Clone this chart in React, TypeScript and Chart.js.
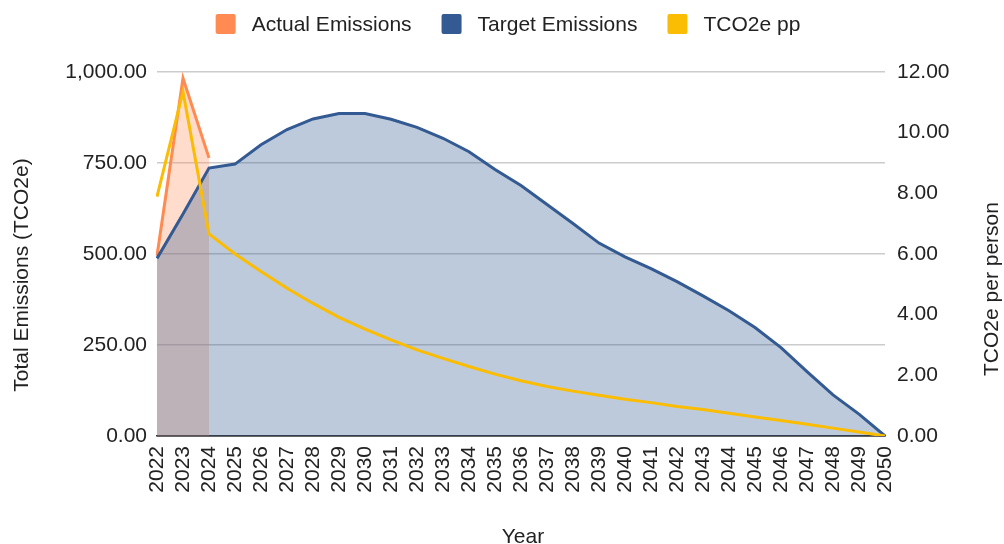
import React, { useEffect, useRef } from "react";
import { Chart, registerables } from "chart.js";

Chart.register(...registerables);

const years = ["2022","2023","2024","2025","2026","2027","2028","2029","2030","2031","2032","2033","2034","2035","2036","2037","2038","2039","2040","2041","2042","2043","2044","2045","2046","2047","2048","2049","2050"];
const actualEmissions: (number | null)[] = [495, 983, 764, null, null, null, null, null, null, null, null, null, null, null, null, null, null, null, null, null, null, null, null, null, null, null, null, null, null];
const targetEmissions = [488, 610, 736, 747, 800, 842, 871, 886, 886, 870, 848, 818, 781, 732, 688, 636, 584, 530, 492, 460, 424, 385, 344, 298, 243, 177, 113, 60, 0];
const tco2ePerPerson = [7.89, 11.35, 6.66, 6.0, 5.42, 4.87, 4.37, 3.91, 3.52, 3.17, 2.84, 2.56, 2.29, 2.04, 1.82, 1.63, 1.48, 1.34, 1.21, 1.10, 0.97, 0.87, 0.75, 0.63, 0.51, 0.39, 0.26, 0.13, 0];
const seriesNames = ["Actual Emissions", "Target Emissions", "TCO2e pp"];
const seriesColors = ["#FF8B52", "#335A92", "#FBBC04"];
const leftTitle = "Total Emissions (TCO2e)";
const rightTitle = "TCO2e per person";
const xTitle = "Year";

const FONT = "'Liberation Sans', Arial, sans-serif";
const FS = 21;

const overlayPlugin = {
  id: "overlay",
  afterDraw(chart: any) {
    const ctx = chart.ctx as CanvasRenderingContext2D;
    ctx.save();
    ctx.fillStyle = "#222";
    ctx.font = `${FS}px ${FONT}`;
    ctx.textBaseline = "middle";
    // legend
    const box = 20, gapText = 16, gapItem = 30;
    const widths = seriesNames.map((n) => ctx.measureText(n).width);
    const total = widths.reduce((a, b) => a + b, 0) + seriesNames.length * (box + gapText) + (seriesNames.length - 1) * gapItem;
    let x = 508 - total / 2;
    const cy = 24;
    seriesNames.forEach((n, i) => {
      ctx.fillStyle = seriesColors[i];
      ctx.beginPath();
      (ctx as any).roundRect(x, cy - box / 2, box, box, 2);
      ctx.fill();
      ctx.fillStyle = "#222";
      ctx.textAlign = "left";
      ctx.fillText(n, x + box + gapText, cy + 1);
      x += box + gapText + widths[i] + gapItem;
    });
    // axis titles
    ctx.textAlign = "center";
    ctx.save();
    ctx.translate(22, 275);
    ctx.rotate(-Math.PI / 2);
    ctx.fillText(leftTitle, 0, 0);
    ctx.restore();
    ctx.save();
    ctx.translate(992, 289);
    ctx.rotate(-Math.PI / 2);
    ctx.fillText(rightTitle, 0, 0);
    ctx.restore();
    ctx.fillText(xTitle, 523, 537);
    ctx.restore();
  },
};

export default function App() {
  const ref = useRef<HTMLCanvasElement>(null);
  useEffect(() => {
    if (!ref.current) return;
    Chart.defaults.font.family = FONT;
    const chart = new Chart(ref.current, {
      type: "line",
      data: {
        labels: years,
        datasets: [
          {
            label: seriesNames[0],
            data: actualEmissions,
            borderColor: seriesColors[0],
            backgroundColor: "rgba(255,139,82,0.3)",
            fill: "origin",
            borderWidth: 3,
            pointRadius: 0,
            tension: 0,
            yAxisID: "y",
            order: 2,
          },
          {
            label: seriesNames[1],
            data: targetEmissions,
            borderColor: seriesColors[1],
            backgroundColor: "rgba(51,90,146,0.32)",
            fill: "origin",
            borderWidth: 3,
            pointRadius: 0,
            tension: 0,
            yAxisID: "y",
            order: 1,
          },
          {
            label: seriesNames[2],
            data: tco2ePerPerson,
            borderColor: seriesColors[2],
            backgroundColor: seriesColors[2],
            fill: false,
            borderWidth: 3,
            pointRadius: 0,
            tension: 0,
            yAxisID: "y1",
            order: 0,
          },
        ],
      },
      options: {
        animation: false,
        responsive: true,
        maintainAspectRatio: false,
        layout: { padding: { top: 72, left: 0, right: 0, bottom: 0 } },
        plugins: {
          legend: { display: false },
          tooltip: { enabled: false },
        },
        scales: {
          x: {
            offset: false,
            grid: { display: false, drawTicks: false },
            border: { display: true, color: "#333", width: 1.5 },
            ticks: {
              color: "#222",
              font: { size: FS, family: FONT },
              maxRotation: 90,
              minRotation: 90,
              autoSkip: false,
              padding: 10,
            },
            afterFit(scale: any) {
              scale.height = 108;
            },
          },
          y: {
            position: "left",
            min: 0,
            max: 1000,
            ticks: {
              stepSize: 250,
              color: "#222",
              font: { size: FS, family: FONT },
              padding: 10,
              callback: (v: any) => Number(v).toLocaleString("en-US", { minimumFractionDigits: 2, maximumFractionDigits: 2 }),
            },
            grid: {
              drawTicks: false,
              color: (c: any) => (c.tick && c.tick.value === 0 ? "#333" : "#cccccc"),
              lineWidth: 1.5,
            },
            border: { display: false },
            afterFit(scale: any) {
              scale.width = 157;
            },
          },
          y1: {
            position: "right",
            min: 0,
            max: 12,
            ticks: {
              stepSize: 2,
              color: "#222",
              font: { size: FS, family: FONT },
              padding: 12,
              callback: (v: any) => Number(v).toFixed(2),
            },
            grid: { display: false, drawTicks: false },
            border: { display: false },
            afterFit(scale: any) {
              scale.width = 119;
            },
          },
        },
      },
      plugins: [overlayPlugin],
    });
    return () => chart.destroy();
  }, []);
  return (
    <div style={{ position: "fixed", left: 0, top: 0, width: 1004, height: 544, background: "#fff" }}>
      <canvas ref={ref} />
    </div>
  );
}
